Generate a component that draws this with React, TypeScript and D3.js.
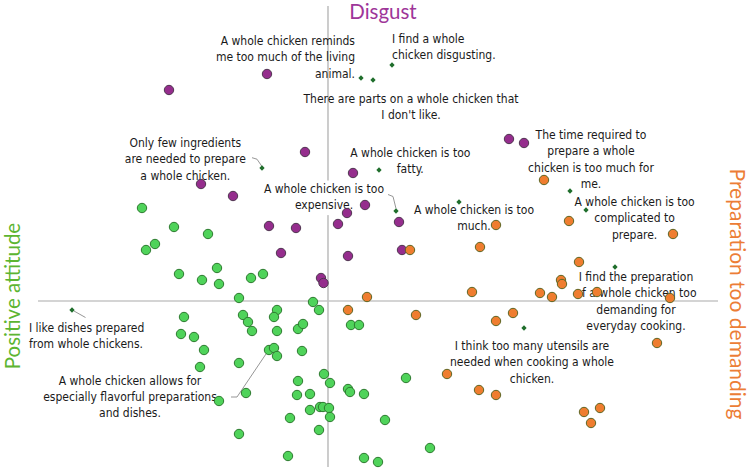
import React from 'react';
import * as d3 from 'd3';

const width = 750;
const height = 470;

// respondents per cluster: [dimension 1, dimension 2]
const positivePoints: [number, number][] = [
  [-1.86, 0.93], [-1.54, 0.74], [-1.2, 0.67], [-1.82, 0.51], [-1.73, 0.57],
  [-1.49, 0.27], [-1.26, 0.21], [-1.11, 0.33], [-1.09, 0.17], [-0.77, 0.23],
  [-0.65, 0.27], [-0.89, 0.03], [-0.15, -0.01], [-0.09, -0.09], [-1.44, -0.16],
  [-0.85, -0.14], [-0.8, -0.21], [-0.76, -0.3], [-0.51, -0.09], [-0.54, -0.16],
  [-0.51, -0.3], [-0.3, -0.28], [-0.25, -0.23], [0.23, -0.24], [0.31, -0.24],
  [-1.47, -0.33], [-1.34, -0.36], [-1.24, -0.49], [-1.28, -0.66], [-0.89, -0.62],
  [-0.59, -0.49], [-0.54, -0.47], [-0.51, -0.55], [-0.26, -0.5], [-1.09, -1.0],
  [-0.82, -0.92], [-0.04, -0.73], [0.02, -0.82], [-0.3, -0.8], [-0.31, -0.94],
  [-0.18, -0.93], [0.2, -0.88], [0.22, -0.91], [0.36, -0.93], [0.78, -0.77],
  [-0.08, -1.06], [-0.05, -1.06], [0.01, -1.07], [-0.18, -1.09], [0.02, -1.16],
  [-0.38, -1.17], [0.57, -1.19], [-0.09, -1.29], [-0.89, -1.33], [-0.4, -1.55],
  [0.36, -1.57], [0.5, -1.61], [1.02, -1.47],
];

const disgustPoints: [number, number][] = [
  [-0.61, 2.27], [-1.59, 2.11], [-0.23, 1.49], [-1.27, 1.17], [-0.95, 1.05],
  [0.25, 1.28], [0.37, 0.96], [0.19, 0.88], [0.1, 0.77], [-0.59, 0.75],
  [-0.32, 0.73], [-0.47, 0.48], [0.2, 0.45], [0.71, 0.79], [0.74, 0.51],
  [-0.07, 0.23], [-0.045, 0.18], [1.81, 1.62], [1.96, 1.58],
];

const demandingPoints: [number, number][] = [
  [0.82, 0.51], [1.68, 0.76], [1.52, 0.54], [2.16, 1.21], [2.41, 0.8],
  [3.45, 0.67], [2.51, 0.39], [2.33, 0.21], [2.34, 0.17], [2.12, 0.08],
  [2.24, 0.04], [2.5, 0.07], [2.69, 0.09], [3.42, 0.03], [1.44, 0.09],
  [0.39, 0.04], [0.2, -0.09], [0.88, -0.14], [1.85, -0.12], [1.68, -0.2],
  [3.29, -0.42], [1.19, -0.73], [1.51, -0.89], [1.68, -0.94], [2.56, -1.11],
  [2.72, -1.07], [2.63, -1.22],
];

// item statements and where they load
const statementText: string[][] = [
  ['A whole chicken reminds', 'me too much of the living', 'animal.'],
  ['There are parts on a whole chicken that', "I don't like."],
  ['I find a whole', 'chicken disgusting.'],
  ['Only few ingredients', 'are needed to prepare', 'a whole chicken.'],
  ['A whole chicken is too', 'fatty.'],
  ['A whole chicken is too', 'expensive.'],
  ['A whole chicken is too', 'much.'],
  ['The time required to', 'prepare a whole', 'chicken is too much for', 'me.'],
  ['A whole chicken is too', 'complicated to', 'prepare.'],
  ['I find the preparation', 'of a whole chicken too', 'demanding for', 'everyday cooking.'],
  ['I think too many utensils are', 'needed when cooking a whole', 'chicken.'],
  ['I like dishes prepared', 'from whole chickens.'],
  ['A whole chicken allows for', 'especially flavorful preparations', 'and dishes.'],
];
const statementX = [0.33, 0.45, 0.64, -0.66, 0.51, 0.68, 1.31, 2.42, 2.58, 2.87, 1.96, -2.56, -0.6];
const statementY = [2.23, 2.21, 2.36, 1.33, 1.31, 0.9, 0.99, 1.1, 0.91, 0.34, -0.27, -0.09, -0.49];

// label placement (first baseline, in plot units) and leader lines in px
const labelX = [0.27, 0.83, 0.64, -1.427, 0.823, -0.04, 1.46, 2.63, 3.066, 3.08, 2.04, -2.99, -1.98];
const labelY = [2.56, 1.985, 2.585, 1.54, 1.445, 1.085, 0.87, 1.62, 0.95, 0.2, -0.49, -0.31, -0.835];
const labelAnchor = ['end', 'middle', 'start', 'middle', 'middle', 'middle', 'middle', 'middle', 'middle', 'middle', 'middle', 'start', 'middle'];
const leaders: Record<number, [number, number][]> = {
  3: [[-10, -10.3], [-5, -8.8], [0, -1.5]],
  5: [[-8, -16.5], [-3, -14.5], [0, -2.5]],
  11: [[2, 1], [13.5, 7.5]],
  12: [[-37, 47], [-31, 47], [0, 1]],
};

const labelFont = "'Liberation Sans Narrow', 'DejaVu Sans Condensed', Lato, sans-serif";
const titleFont = "Lato, 'Noto Sans', sans-serif";
const lineGap = 16.3;

const x = d3.scaleLinear().domain([-3, 4]).range([28, 728]);
const y = d3.scaleLinear().domain([-1.7, 3]).range([471, 1]);

const diamond = d3.symbol().type(d3.symbolSquare).size(14)();

const Dots = ({ pts, fill, stroke }: { pts: [number, number][]; fill: string; stroke: string }) => (
  <g>
    {pts.map(([a, b], i) => (
      <circle key={i} cx={x(a)} cy={y(b)} r={4.7} fill={fill} stroke={stroke} strokeWidth={1} />
    ))}
  </g>
);

export default function App() {
  return (
    <svg width={width} height={height} style={{ position: 'absolute', left: 0, top: 0, background: '#fff' }}>
      {/* axes through the origin */}
      <line x1={x(-2.9)} x2={x(3.9)} y1={y(0)} y2={y(0)} stroke="#a9a9a9" strokeWidth={1.2} />
      <line x1={x(0)} x2={x(0)} y1={y(2.95)} y2={y(-1.66)} stroke="#c4c4c4" strokeWidth={1.7} />

      <text x={x(0.55)} y={19} textAnchor="middle" fontFamily={titleFont} fontSize={20.5} fill="#9e3699">Disgust</text>
      <text transform={`translate(20,${y(0.05)}) rotate(-90)`} textAnchor="middle" fontFamily={titleFont} fontSize={20.5} fill="#5cb531">Positive attitude</text>
      <text transform={`translate(730,${y(0.07)}) rotate(90)`} textAnchor="middle" fontFamily={titleFont} fontSize={21} fill="#ec7d36">Preparation too demanding</text>

      {statementText.map((lines, i) => {
        const lx = x(labelX[i]);
        const ly = y(labelY[i]);
        const boxW = d3.max(lines, (l) => l.length)! * 5.1;
        return (
          <g key={i}>
            {i === 5 && (
              <rect x={lx - boxW / 2 - 2} y={ly - 12} width={boxW + 4} height={lines.length * lineGap + 2} fill="#fff" />
            )}
            <text fontFamily={labelFont} fontSize={12} fill="#1a1a1a" textAnchor={labelAnchor[i]}>
              {lines.map((l, j) => (
                <tspan key={j} x={lx} y={ly + j * lineGap}>{l}</tspan>
              ))}
            </text>
          </g>
        );
      })}

      {Object.entries(leaders).map(([k, pts]) => {
        const i = +k;
        const cx = x(statementX[i]);
        const cy = y(statementY[i]);
        return (
          <polyline key={k} points={pts.map(([dx, dy]) => `${cx + dx},${cy + dy}`).join(' ')} fill="none" stroke="#8a8a8a" strokeWidth={0.9} />
        );
      })}

      {statementX.map((sx, i) => (
        <path key={i} d={diamond} transform={`translate(${x(sx)},${y(statementY[i])}) rotate(45)`} fill="#1f6e2c" />
      ))}

      <Dots pts={disgustPoints} fill="#952d8d" stroke="#4f3550" />
      <Dots pts={demandingPoints} fill="#ef7d2f" stroke="#5e6624" />
      <Dots pts={positivePoints} fill="#4fd35a" stroke="#2d7a2f" />
    </svg>
  );
}
